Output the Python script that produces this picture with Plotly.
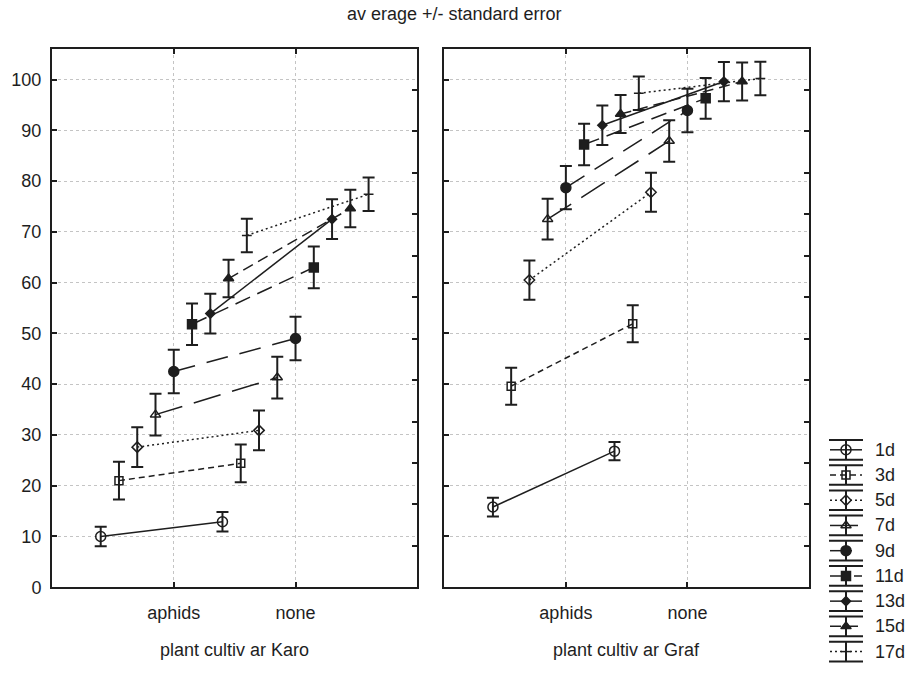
import plotly.graph_objects as go

W, H = 908, 681

# ---------------- data ----------------
categories = ["aphids", "none"]
series_names = ["1d", "3d", "5d", "7d", "9d", "11d", "13d", "15d", "17d"]

karo_mean = [[10.0, 12.9], [21.0, 24.4], [27.6, 30.9], [34.0, 41.3], [42.5, 49.0],
             [51.8, 63.0], [53.9, 72.5], [60.8, 74.6], [69.3, 77.4]]
karo_se = [[1.9, 1.9], [3.7, 3.7], [3.9, 3.9], [4.1, 4.1], [4.3, 4.3],
           [4.1, 4.1], [3.9, 3.9], [3.7, 3.7], [3.3, 3.3]]

graf_mean = [[15.8, 26.8], [39.6, 51.9], [60.5, 77.8], [72.5, 87.9], [78.7, 93.9],
             [87.2, 96.3], [91.0, 99.6], [93.2, 99.6], [97.3, 100.2]]
graf_se = [[1.85, 1.8], [3.65, 3.65], [3.85, 3.85], [4.0, 4.1], [4.25, 4.3],
           [4.1, 4.0], [3.9, 3.85], [3.75, 3.75], [3.3, 3.3]]

panel_titles = ["plant cultiv ar Karo", "plant cultiv ar Graf"]
title_text = "av erage +/- standard error"

# ---------------- styles ----------------
INK = "#1e1e1e"
FONT = "Liberation Sans, Arial, sans-serif"
FS = 18
symbols = ["circle-open", "square-open", "diamond-open", "triangle-up-open", "circle",
           "square", "diamond", "triangle-up", "line-ew"]
msizes = [10, 8, 8, 9, 10, 9, 7, 9, 7]
dashes = ["solid", "6px,4px", "2px,3px", "28px,12px", "22px,12px", "16px,8px",
          "solid", "11px,6px", "2px,3px"]
step = 0.15

fig = go.Figure()

panels = [("x", "y", karo_mean, karo_se), ("x2", "y2", graf_mean, graf_se)]
for xa, ya, means, ses in panels:
    for i, name in enumerate(series_names):
        off = (i - (len(series_names) - 1) / 2) * step
        xs = [c + 1 + off for c in range(len(categories))]
        fig.add_trace(go.Scatter(
            x=xs, y=means[i], mode="lines+markers", xaxis=xa, yaxis=ya,
            name=name, showlegend=False,
            line=dict(color=INK, width=1.5, dash=dashes[i]),
            marker=dict(symbol=symbols[i], size=msizes[i], color=INK,
                        line=dict(color=INK, width=1.5)),
            error_y=dict(type="data", array=ses[i], visible=True, color=INK,
                         thickness=2, width=6),
        ))

# empty traces so the mirrored right-hand tick axes exist
fig.add_trace(go.Scatter(x=[None], y=[None], xaxis="x", yaxis="y3", showlegend=False))
fig.add_trace(go.Scatter(x=[None], y=[None], xaxis="x2", yaxis="y4", showlegend=False))

# ---------------- custom legend (pixel axis) ----------------
leg_y0, leg_dy = 456.5, 25.6
for i, name in enumerate(series_names):
    yc = leg_y0 + leg_dy * i
    fig.add_trace(go.Scatter(
        x=[830, 862], y=[yc, yc], mode="lines", xaxis="x5", yaxis="y5",
        line=dict(color=INK, width=1.5, dash=dashes[i]), showlegend=False, hoverinfo="skip"))
    fig.add_trace(go.Scatter(
        x=[846], y=[yc], mode="markers", xaxis="x5", yaxis="y5",
        marker=dict(symbol=symbols[i], size=msizes[i], color=INK,
                    line=dict(color=INK, width=1.5)),
        error_y=dict(type="data", array=[10], visible=True, color=INK, thickness=2, width=17),
        showlegend=False, hoverinfo="skip"))
    fig.add_annotation(x=873, y=yc, xref="x5", yref="y5", text=name, showarrow=False,
                       xanchor="left", yanchor="middle", font=dict(size=FS, color=INK, family=FONT))

# ---------------- axes ----------------
ytop, ybot = 49.3, 596.0
ydom = [1 - ybot / H, 1 - ytop / H]
xdoms = [[52 / W, 417.3 / W], [444.3 / W, 809 / W]]

common_x = dict(range=[0, 3], tickvals=[1, 2], ticktext=categories, ticks="inside",
                ticklen=5, tickwidth=1.5, tickcolor=INK, showline=True, linewidth=2,
                linecolor=INK, mirror="ticks", showgrid=True, gridcolor="#c4c4c4",
                gridwidth=1, griddash="3px,3px", zeroline=False,
                tickfont=dict(size=FS, color=INK, family=FONT), ticklabelstandoff=8)
common_y = dict(range=[0, 106.1], tick0=0, dtick=10, ticks="inside", ticklen=5,
                tickwidth=1.5, tickcolor=INK, showline=True, linewidth=2, linecolor=INK,
                mirror=True, showgrid=True, gridcolor="#c4c4c4", gridwidth=1,
                griddash="3px,3px", zeroline=False, domain=ydom,
                tickfont=dict(size=FS, color=INK, family=FONT))
right_y = dict(range=[0, 13], tick0=0, dtick=1, ticks="inside", ticklen=5, tickwidth=1.5,
               tickcolor=INK, showticklabels=False, showgrid=False, showline=False,
               zeroline=False, side="right")

fig.update_layout(
    width=W, height=H, margin=dict(l=0, r=0, t=0, b=0, pad=0),
    paper_bgcolor="white", plot_bgcolor="white", showlegend=False,
    font=dict(family=FONT, size=FS, color=INK),
    xaxis=dict(common_x, domain=xdoms[0], anchor="y"),
    xaxis2=dict(common_x, domain=xdoms[1], anchor="y2"),
    yaxis=dict(common_y, anchor="x", ticklabelstandoff=5),
    yaxis2=dict(common_y, anchor="x2", showticklabels=False),
    yaxis3=dict(right_y, overlaying="y", anchor="x"),
    yaxis4=dict(right_y, overlaying="y2", anchor="x2"),
    xaxis5=dict(domain=[820 / W, 1], range=[820, 908], visible=False, fixedrange=True),
    yaxis5=dict(domain=[0, 1], range=[H, 0], visible=False, fixedrange=True, anchor="x5"),
)

# title and axis titles
fig.add_annotation(x=454 / W, y=1 - 14 / H, xref="paper", yref="paper", text=title_text,
                   showarrow=False, xanchor="center", yanchor="middle",
                   font=dict(size=FS, color=INK, family=FONT))
for k, t in enumerate(panel_titles):
    fig.add_annotation(x=(xdoms[k][0] + xdoms[k][1]) / 2, y=1 - 660 / H, xref="paper",
                       yref="paper", text=t, showarrow=False, xanchor="center",
                       yanchor="middle", font=dict(size=FS, color=INK, family=FONT))

fig.write_html("out.html", config={"displayModeBar": False},
               post_script="document.body.style.margin='0px';document.body.style.overflow='hidden';")
